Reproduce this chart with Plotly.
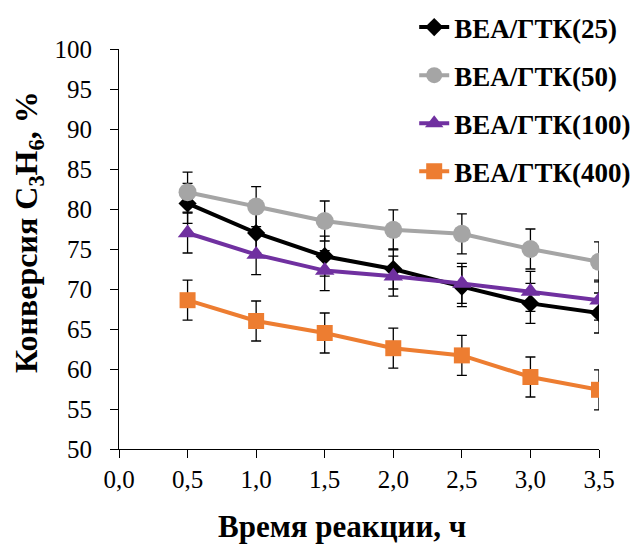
import plotly.graph_objects as go

time_h = [0.5, 1.0, 1.5, 2.0, 2.5, 3.0, 3.5]
bea25 = [80.7, 77.0, 74.1, 72.5, 70.3, 68.2, 67.0]
bea50 = [82.1, 80.3, 78.5, 77.4, 76.9, 75.0, 73.4]
bea100 = [77.0, 74.3, 72.3, 71.6, 70.7, 69.7, 68.6]
bea400 = [68.6, 66.0, 64.5, 62.6, 61.7, 59.0, 57.4]
err = [2.5, 2.5, 2.5, 2.5, 2.5, 2.5, 2.5]

names = ["BEA/ГТК(25)", "BEA/ГТК(50)", "BEA/ГТК(100)", "BEA/ГТК(400)"]
series = [bea25, bea50, bea100, bea400]
colors = ["#000000", "#A5A5A5", "#7030A0", "#ED7D31"]
symbols = ["diamond", "circle", "triangle-up", "square"]
sizes = [14, 18, 17, 16]

x_ticks = [0.0, 0.5, 1.0, 1.5, 2.0, 2.5, 3.0, 3.5]
y_ticks = [50, 55, 60, 65, 70, 75, 80, 85, 90, 95, 100]

FONT = "Liberation Serif"

fig = go.Figure()
for i, (nm, ys) in enumerate(zip(names, series)):
    fig.add_trace(go.Scatter(
        x=time_h, y=ys, name=nm, mode="lines+markers",
        legendgroup=nm,
        line=dict(color=colors[i], width=4),
        marker=dict(symbol=symbols[i], size=sizes[i], color=colors[i]),
        error_y=dict(type="data", array=err, visible=True, color="#000000",
                     thickness=1.3, width=5),
    ))

fig.update_layout(
    width=640, height=544,
    margin=dict(l=119, r=41, t=49, b=95, autoexpand=False),
    paper_bgcolor="white", plot_bgcolor="white",
    separators=", ",
    font=dict(family=FONT, size=25, color="black"),
    showlegend=True,
    legend=dict(x=0.615, y=1.115, xanchor="left", yanchor="top",
                font=dict(family=FONT, size=27, color="black", weight="bold"),
                tracegroupgap=10, bgcolor="rgba(0,0,0,0)",
                traceorder="grouped"),
    xaxis=dict(range=[0, 3.5], tickvals=x_ticks, tickformat=".1f",
               showgrid=False, zeroline=False, showline=True,
               linecolor="black", linewidth=1, ticks="outside",
               ticklen=8, tickcolor="black",
               tickfont=dict(family=FONT, size=25)),
    yaxis=dict(range=[50, 100], tickvals=y_ticks,
               showgrid=False, zeroline=False, showline=True,
               linecolor="black", linewidth=1, ticks="outside",
               ticklen=8, tickcolor="black", ticklabelstandoff=13,
               tickfont=dict(family=FONT, size=25)),
    annotations=[
        dict(text="<b>Время реакции, ч</b>", xref="paper", yref="paper",
             x=(342 - 119) / 480, y=-(526 - 449) / 400,
             xanchor="center", yanchor="middle", showarrow=False,
             font=dict(family=FONT, size=31)),
        dict(text="<b>Конверсия C<sub>3</sub>H<sub>6</sub>, %</b>",
             xref="paper", yref="paper",
             x=-(119 - 28) / 480, y=(449 - 232) / 400, textangle=-90,
             xanchor="center", yanchor="middle", showarrow=False,
             font=dict(family=FONT, size=32)),
    ],
)

fig.write_html("out.html")
